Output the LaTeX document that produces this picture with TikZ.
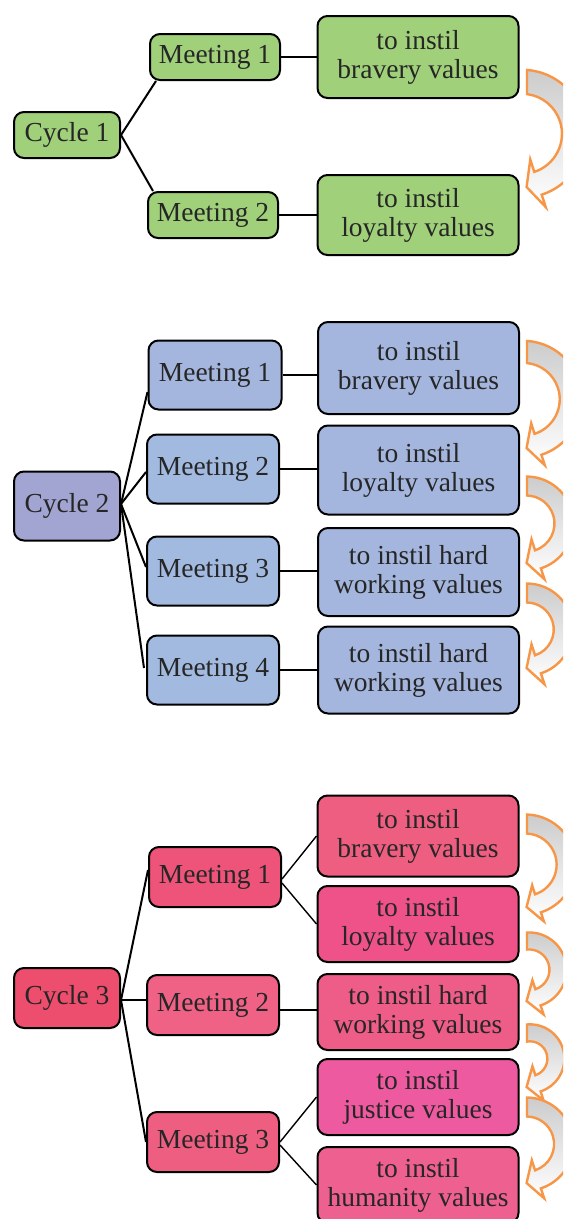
\documentclass[tikz,border=0pt]{standalone}
\usepackage{fontspec}
\setmainfont{Liberation Serif}
\usetikzlibrary{calc}
\definecolor{txt}{HTML}{262626}
\definecolor{gA}{HTML}{A0D07A}
\definecolor{bC}{HTML}{A2A4D2}
\definecolor{bM}{HTML}{A2BAE0}
\definecolor{bV}{HTML}{A4B6DE}
\definecolor{rC}{HTML}{EE4E6E}
\definecolor{rMa}{HTML}{EE5479}
\definecolor{rMb}{HTML}{EF6185}
\definecolor{rMc}{HTML}{EE5E81}
\definecolor{rVa}{HTML}{EE5E80}
\definecolor{rVb}{HTML}{EE5288}
\definecolor{rVc}{HTML}{EE5C88}
\definecolor{rVd}{HTML}{EE5AA0}
\definecolor{rVe}{HTML}{EE6090}
\definecolor{orng}{HTML}{F79646}
\definecolor{grayf}{HTML}{CCCCCC}
\tikzset{
  box/.style={draw=black, line width=2pt, rounded corners=10pt, align=center,
    text=txt, inner sep=0pt, font=\fontsize{27.5}{29}\selectfont},
  cyclebox/.style={box, minimum width=106pt},
  meetbox/.style={box, minimum width=132pt},
  valbox/.style={box, minimum width=201pt},
  link/.style={draw=black, line width=2pt},
  thinlink/.style={draw=black, line width=1.4pt},
  cycarrow/.style={draw=orng, line width=2.4pt, line join=miter,
    top color=grayf, middle color=grayf!55, bottom color=white},
}
% #1 start mid y, #2 tip y, #3 band width, #4 head half height
\newcommand\cyarr[4]{%
  \pgfmathsetmacro\arrA{72}%
  \pgfmathsetmacro\arrL{12}%
  \pgfmathsetmacro\arrRz{(#2-#1-\arrL*cos(\arrA))/(1+sin(\arrA))}%
  \pgfmathsetmacro\arrC{cos(\arrA)-11/\arrRz}%
  \pgfmathsetmacro\arrR{(#2-#1-\arrL*cos(\arrA))/(sin(\arrA)+sqrt(1-\arrC*\arrC))}%
  \pgfmathsetmacro\arrC{cos(\arrA)-11/\arrR}%
  \pgfmathsetmacro\arrX{538-\arrR*cos(\arrA)}%
  \pgfmathsetmacro\arrY{#1+\arrR*sqrt(1-\arrC*\arrC)}%
  \pgfmathsetmacro\arrRo{\arrR+#3/2}%
  \pgfmathsetmacro\arrRi{\arrR-#3/2}%
  \pgfmathsetmacro\arrSo{-acos((527-\arrX)/\arrRo)}%
  \pgfmathsetmacro\arrSi{-acos((527-\arrX)/\arrRi)}%
  \coordinate (ctr) at (\arrX,\arrY);
  \path[cycarrow] (ctr) ++(\arrSo:\arrRo) arc[start angle=\arrSo, end angle=\arrA, radius=\arrRo]
    -- ($(ctr)+({\arrA}:{\arrR+#4})$)
    -- ($(ctr)+({\arrA}:{\arrR})+({\arrA+90}:{\arrL})$)
    -- ($(ctr)+({\arrA}:{\arrR-#4})$)
    -- ($(ctr)+({\arrA}:{\arrRi})$) arc[start angle=\arrA, end angle=\arrSi, radius=\arrRi]
    -- cycle;
}
\begin{document}
\begin{tikzpicture}[x=1pt, y=-1pt]
\useasboundingbox (0,0) rectangle (563,1219);
\clip (0,0) rectangle (563,1219);

% ---------- Cycle 1 ----------
\node[cyclebox, fill=gA, minimum height=46pt] (c1) at (67,135) {Cycle 1};
\node[meetbox, fill=gA, minimum width=130pt, minimum height=46pt] (c1m1) at (215,57) {Meeting 1};
\node[meetbox, fill=gA, minimum width=130pt, minimum height=46pt] (c1m2) at (213,215) {Meeting 2};
\node[valbox, fill=gA, minimum height=82pt] (c1v1) at (418,57) {to instil\\bravery values};
\node[valbox, fill=gA, minimum height=80pt] (c1v2) at (418,215) {to instil\\loyalty values};
\draw[link] (c1.east) -- ([xshift=7pt]c1m1.south west);
\draw[link] (c1.east) -- ([xshift=6pt]c1m2.north west);
\draw[link] (c1m1.east) -- (c1m1.east -| c1v1.west);
\draw[link] (c1m2.east) -- (c1m2.east -| c1v2.west);
\cyarr{82}{187}{24}{25}

% ---------- Cycle 2 ----------
\node[cyclebox, fill=bC, minimum height=69pt] (c2) at (67,506) {Cycle 2};
\node[meetbox, fill=bV, minimum width=133pt, minimum height=69pt] (c2m1) at (215,375) {Meeting 1};
\node[meetbox, fill=bM, minimum height=69pt] (c2m2) at (213,469) {Meeting 2};
\node[meetbox, fill=bM, minimum height=69pt] (c2m3) at (213,571) {Meeting 3};
\node[meetbox, fill=bM, minimum height=69pt] (c2m4) at (213,670) {Meeting 4};
\node[valbox, fill=bV, minimum height=92pt] (c2v1) at (418.5,368) {to instil\\bravery values};
\node[valbox, fill=bV, minimum height=89pt] (c2v2) at (418.5,470) {to instil\\loyalty values};
\node[valbox, fill=bV, minimum height=88pt] (c2v3) at (418.5,572) {to instil hard\\working values};
\node[valbox, fill=bV, minimum height=87pt] (c2v4) at (418.5,670) {to instil hard\\working values};
\draw[link] ([yshift=2pt]c2.east) -- ([yshift=-17pt]c2m1.west);
\draw[link] ([yshift=2pt]c2.east) -- ([yshift=-3pt]c2m2.west);
\draw[link] ([yshift=2pt]c2.east) -- ([yshift=4pt]c2m3.west);
\draw[link] ([yshift=2pt]c2.east) -- ([xshift=-2pt,yshift=2pt]c2m4.west);
\draw[link] (c2m1.east) -- (c2m1.east -| c2v1.west);
\draw[link] (c2m2.east) -- (c2m2.east -| c2v2.west);
\draw[link] (c2m3.east) -- (c2m3.east -| c2v3.west);
\draw[link] (c2m4.east) -- (c2m4.east -| c2v4.west);
\cyarr{352}{448}{22}{22}
\cyarr{486}{563}{19}{21}
\cyarr{593}{668}{19}{21}

% ---------- Cycle 3 ----------
\node[cyclebox, fill=rC, minimum height=60pt] (c3) at (67,998) {Cycle 3};
\node[meetbox, fill=rMa, minimum height=60pt] (c3m1) at (215,877) {Meeting 1};
\node[meetbox, fill=rMb, minimum height=60pt] (c3m2) at (213,1005) {Meeting 2};
\node[meetbox, fill=rMc, minimum height=60pt] (c3m3) at (213,1142) {Meeting 3};
\node[valbox, fill=rVa, minimum height=81pt] (c3v1) at (418,836) {to instil\\bravery values};
\node[valbox, fill=rVb, minimum height=76pt] (c3v2) at (418,924) {to instil\\loyalty values};
\node[valbox, fill=rVc, minimum height=76pt] (c3v3) at (418,1012) {to instil hard\\working values};
\node[valbox, fill=rVd, minimum height=76pt] (c3v4) at (418,1097) {to instil\\justice values};
\node[valbox, fill=rVe, minimum height=76pt] (c3v5) at (418,1185) {to instil\\humanity values};
\draw[link] ([yshift=-2pt]c3.east) -- ([yshift=7pt]c3m1.west);
\draw[link] ([yshift=-2pt]c3.east) -- ([yshift=-2pt]c3.east -| c3m2.west);
\draw[link] ([yshift=-2pt]c3.east) -- (c3m3.west);
\draw[thinlink] ([yshift=-2pt]c3m1.east) -- (c3v1.west);
\draw[thinlink] ([yshift=-6pt]c3m1.east) -- (c3v2.west);
\draw[link] ([yshift=-5pt]c3m2.east) -- ([yshift=-5pt]c3m2.east -| c3v3.west);
\draw[thinlink] (c3m3.east) -- (c3v4.west);
\draw[thinlink] ([yshift=-3pt]c3m3.east) -- (c3v5.west);
\cyarr{824}{907}{19}{19}
\cyarr{941}{1001}{17}{18}
\cyarr{1033}{1087}{17}{18}
\cyarr{1107}{1183}{19}{20}
\end{tikzpicture}
\end{document}
